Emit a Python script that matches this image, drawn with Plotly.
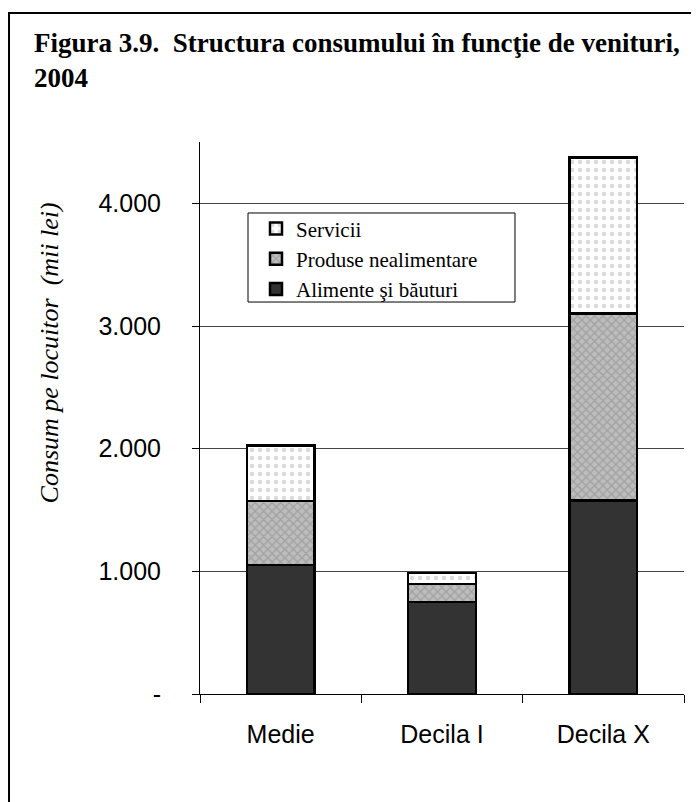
"""
Figura 3.9 - structura consumului in functie de venituri, 2004.

Stacked bars of consumption per inhabitant by income group.
"""

import plotly.graph_objects as go

categories = ["Medie", "Decila I", "Decila X"]
alimente = [1053, 749, 1576]
produse = [520, 149, 1526]
servicii = [454, 87, 1271]

tick_values = [0, 1000, 2000, 3000, 4000]
tick_labels = ["-", "1.000", "2.000", "3.000", "4.000"]

SERIF = "Liberation Serif, Times New Roman, serif"
SANS = "Liberation Sans, Arial, sans-serif"

fig = go.Figure()

# Bottom to top: food, non-food goods, services
fig.add_trace(
    go.Bar(
        x=categories,
        y=alimente,
        name="Alimente şi băuturi",
        marker=dict(color="#333333", line=dict(color="black", width=2.5)),
    )
)
fig.add_trace(
    go.Bar(
        x=categories,
        y=produse,
        name="Produse nealimentare",
        marker=dict(
            color="#bdbdbd",
            line=dict(color="black", width=2.5),
            pattern=dict(shape="x", fgcolor="#858585", size=6, solidity=0.4),
        ),
    )
)
fig.add_trace(
    go.Bar(
        x=categories,
        y=servicii,
        name="Servicii",
        marker=dict(
            color="white",
            line=dict(color="black", width=2.5),
            pattern=dict(shape=".", fgcolor="#b5b5b5", size=8, solidity=0.25),
        ),
    )
)

fig.update_layout(
    width=699,
    height=802,
    barmode="stack",
    bargap=0.58,
    paper_bgcolor="white",
    plot_bgcolor="white",
    margin=dict(l=192, r=23, t=134, b=116),
    title=dict(
        text="<b>Figura 3.9.  Structura consumului în funcţie de venituri,<br>2004</b>",
        font=dict(family=SERIF, size=27, color="black"),
        x=26 / 699,
        xanchor="left",
        xref="container",
        y=1 - 44 / 802,
        yanchor="top",
        yref="container",
    ),
    legend=dict(
        x=0.1157,
        y=0.880,
        xanchor="left",
        yanchor="top",
        traceorder="reversed",
        bgcolor="rgba(0,0,0,0)",
        borderwidth=0,
        font=dict(family=SERIF, size=21, color="black"),
        itemwidth=30,
    ),
    showlegend=True,
)

fig.update_yaxes(
    range=[0, 4500],
    tickvals=tick_values,
    ticktext=tick_labels,
    tickfont=dict(family=SANS, size=25, color="black"),
    showline=True,
    linecolor="black",
    linewidth=1,
    ticks="outside",
    ticklen=7,
    tickcolor="black",
    ticklabelstandoff=26,
    showgrid=True,
    gridcolor="#444444",
    gridwidth=1,
    zeroline=False,
)

fig.update_xaxes(
    tickfont=dict(family=SANS, size=25, color="black"),
    showline=True,
    linecolor="black",
    linewidth=1,
    ticks="outside",
    tickson="boundaries",
    ticklen=8,
    tickcolor="black",
    ticklabelstandoff=18,
    showgrid=False,
)

# Y axis title placed by hand, as in the source chart
fig.add_annotation(
    text="<i>Consum pe locuitor  (mii lei)</i>",
    xref="paper",
    yref="paper",
    x=-0.346,
    y=0.617,
    textangle=-90,
    showarrow=False,
    font=dict(family=SERIF, size=26, color="black"),
)

# Legend frame
fig.add_shape(
    type="rect",
    xref="paper",
    yref="paper",
    x0=0.0992,
    x1=0.6508,
    y0=0.7101,
    y1=0.8714,
    line=dict(color="black", width=1),
    fillcolor="white",
    layer="below",
)

# Frame around the whole figure (open on the right and bottom edges)
fig.add_shape(
    type="rect",
    xref="paper",
    yref="paper",
    x0=-0.3946,
    x1=1.2,
    y0=-0.4,
    y1=1.2337,
    line=dict(color="black", width=2),
    layer="below",
)

fig.write_html("out.html")
